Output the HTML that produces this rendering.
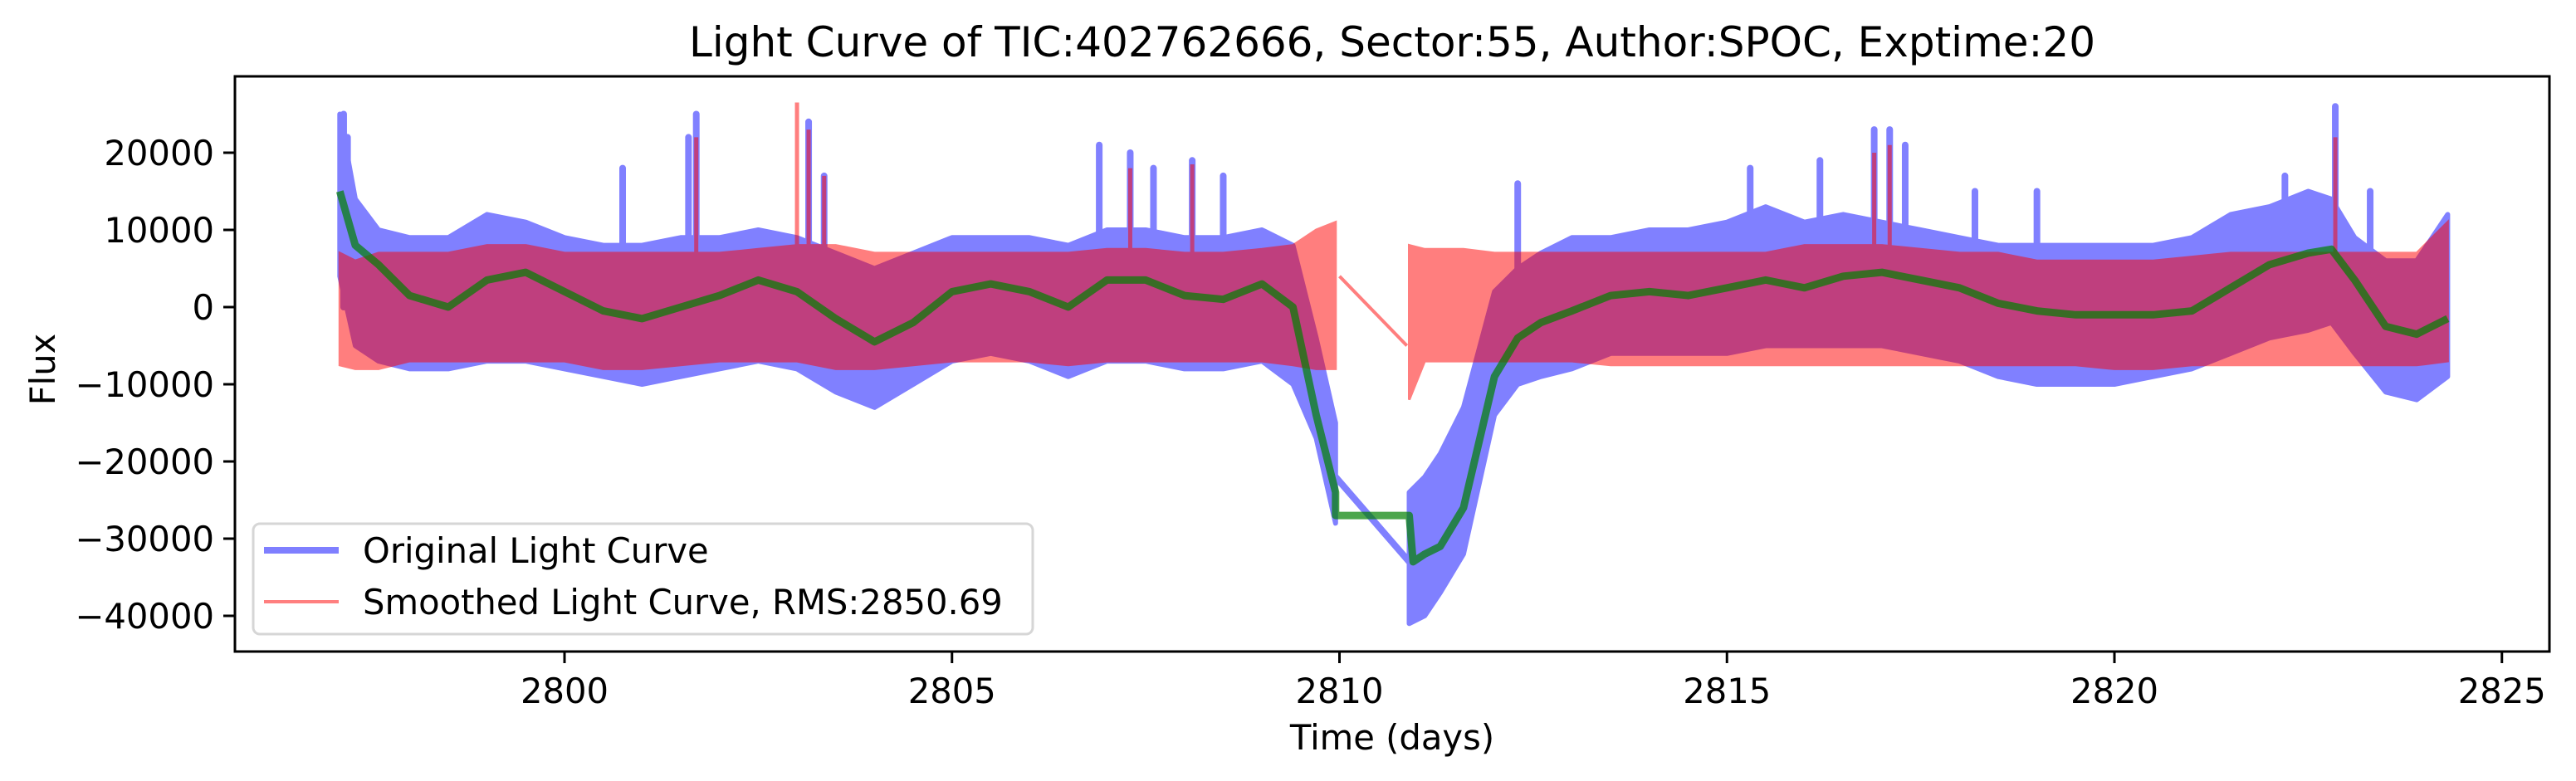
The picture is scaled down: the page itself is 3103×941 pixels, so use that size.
<!DOCTYPE html>
<html><head><meta charset="utf-8"><style>
html,body{margin:0;padding:0;background:#fff}
svg{display:block;font-family:"DejaVu Sans","Liberation Sans",sans-serif}
</style></head><body>
<svg id="chart" width="3103" height="941" viewBox="0 0 3103 941" xmlns="http://www.w3.org/2000/svg">
<rect x="0" y="0" width="3103" height="941" fill="#fff"/>
<text x="1677" y="68" font-size="50" text-anchor="middle">Light Curve of TIC:402762666, Sector:55, Author:SPOC, Exptime:20</text>
<g id="plot"></g>
<rect x="283" y="92" width="2788" height="693" fill="none" stroke="#000" stroke-width="3"/>
<g id="xticks"></g>
<g id="yticks"></g>
<text x="1677" y="903" font-size="41.7" text-anchor="middle">Time (days)</text>
<text transform="translate(66,445) rotate(-90)" font-size="41.7" text-anchor="middle">Flux</text>
<g>
<rect x="305" y="631" width="939" height="133" rx="8" fill="#fff" fill-opacity="0.8" stroke="#d6d6d6" stroke-width="3"/>
<line x1="318" y1="663" x2="408" y2="663" stroke="#0000ff" stroke-opacity="0.5" stroke-width="8"/>
<text x="437" y="678" font-size="41.7">Original Light Curve</text>
<line x1="318" y1="725" x2="408" y2="725" stroke="#ff0000" stroke-opacity="0.5" stroke-width="4"/>
<text x="437" y="740" font-size="41.7">Smoothed Light Curve, RMS:2850.69</text>
</g>
</svg>
<script>
// ---- data ----
const seg1T = [2797.1,2797.3,2797.6,2798,2798.5,2799,2799.5,2800,2800.5,2801,2801.5,2802,2802.5,2803,2803.5,2804,2804.5,2805,2805.5,2806,2806.5,2807,2807.5,2808,2808.5,2809,2809.4,2809.7,2809.95];
const seg1Trend = [15000,8000,5500,1500,0,3500,4500,2000,-500,-1500,0,1500,3500,2000,-1500,-4500,-2000,2000,3000,2000,0,3500,3500,1500,1000,3000,0,-14000,-24000];
const seg1BlueUp = [25000,14000,10000,9000,9000,12000,11000,9000,8000,8000,9000,9000,10000,9000,7000,5000,7000,9000,9000,9000,8000,10000,10000,9000,9000,10000,8000,-4000,-15000];
const seg1BlueLo = [4000,-5000,-7000,-8000,-8000,-7000,-7000,-8000,-9000,-10000,-9000,-8000,-7000,-8000,-11000,-13000,-10000,-7000,-6000,-7000,-9000,-7000,-7000,-8000,-8000,-7000,-10000,-17000,-28000];
const seg1RedUp = [7000,6000,7000,7000,7000,8000,8000,7000,7000,7000,7000,7000,7500,8000,8000,7000,7000,7000,7000,7000,7000,7500,7500,7000,7000,7500,8000,10000,11000];
const seg1RedLo = [-7500,-8000,-8000,-7000,-7000,-7000,-7000,-7000,-8000,-8000,-7500,-7000,-7000,-7000,-8000,-8000,-7500,-7000,-7000,-7000,-7500,-7000,-7000,-7000,-7000,-7000,-7500,-8000,-8000];

const seg2T = [2810.9,2811.1,2811.3,2811.6,2812,2812.3,2812.6,2813,2813.5,2814,2814.5,2815,2815.5,2816,2816.5,2817,2817.5,2818,2818.5,2819,2819.5,2820,2820.5,2821,2821.5,2822,2822.5,2822.8,2823.1,2823.5,2823.9,2824.3];
const seg2Trend = [-33000,-32000,-31000,-26000,-9000,-4000,-2000,-500,1500,2000,1500,2500,3500,2500,4000,4500,3500,2500,500,-500,-1000,-1000,-1000,-500,2500,5500,7000,7500,3500,-2500,-3500,-1500];
const seg2BlueUp = [-24000,-22000,-19000,-13000,2000,5000,7000,9000,9000,10000,10000,11000,13000,11000,12000,11000,10000,9000,8000,8000,8000,8000,8000,9000,12000,13000,15000,14000,9000,6000,6000,12000];
const seg2BlueLo = [-41000,-40000,-37000,-32000,-14000,-10000,-9000,-8000,-6000,-6000,-6000,-6000,-5000,-5000,-5000,-5000,-6000,-7000,-9000,-10000,-10000,-10000,-9000,-8000,-6000,-4000,-3000,-2000,-6000,-11000,-12000,-9000];
const seg2RedUp = [8000,7500,7500,7500,7000,7000,7000,7000,7000,7000,7000,7000,7000,8000,8000,8000,7500,7000,7000,6000,6000,6000,6000,6500,7000,7000,7000,7000,7000,7000,7000,11000];
const seg2RedLo = [-12000,-7000,-7000,-7000,-7000,-7000,-7000,-7000,-7500,-7500,-7500,-7500,-7500,-7500,-7500,-7500,-7500,-7500,-7500,-7500,-7500,-8000,-8000,-7500,-7500,-7500,-7500,-7500,-7500,-7500,-7500,-7000];

const gapBlueT = [2809.95,2810.9];
const gapBlueV = [-22000,-33000];
const gapRedT = [2810.0,2810.87];
const gapRedV = [4000,-5000];
const gapGreenT = [2809.95,2810.9,2810.95];
const gapGreenV = [-27000,-27000,-33000];

const blueSpikeT = [2797.15,2797.2,2800.75,2801.6,2801.7,2803.15,2803.35,2806.9,2807.3,2807.6,2808.1,2808.5,2812.3,2815.3,2816.2,2816.9,2817.1,2817.3,2818.2,2819.0,2822.2,2822.85,2823.3];
const blueSpikeV = [25000,22000,18000,22000,25000,24000,17000,21000,20000,18000,19000,17000,16000,18000,19000,23000,23000,21000,15000,15000,17000,26000,15000];
const redSpikeT = [2801.7,2803.0,2803.15,2803.35,2807.3,2808.1,2816.9,2817.1,2822.85];
const redSpikeV = [22000,26500,23000,17000,18000,18500,20000,21000,22000];

const xTickVals = [2800,2805,2810,2815,2820,2825];
const yTickVals = [20000,10000,0,-10000,-20000,-30000,-40000];
const yTickLabels = ["20000","10000","0","\u221210000","\u221220000","\u221230000","\u221240000"];

// ---- scales ----
const X0 = 680, PXDAY = 93.35, Y0 = 370, PXFLUX = 93/10000;
function sx(t){ return X0 + (t-2800)*PXDAY; }
function sy(v){ return Y0 - v*PXFLUX; }
const NS = 'http://www.w3.org/2000/svg';
const plot = document.getElementById('plot');
function mk(tag, attrs, parent){
  const e = document.createElementNS(NS, tag);
  for (const k in attrs) e.setAttribute(k, attrs[k]);
  (parent||plot).appendChild(e);
  return e;
}
function band(T, up, lo){
  let pts = [];
  for (let i=0;i<T.length;i++) pts.push(sx(T[i]).toFixed(1)+','+sy(up[i]).toFixed(1));
  for (let i=T.length-1;i>=0;i--) pts.push(sx(T[i]).toFixed(1)+','+sy(lo[i]).toFixed(1));
  return pts.join(' ');
}
function line(T, V){
  return T.map((t,i)=>sx(t).toFixed(1)+','+sy(V[i]).toFixed(1)).join(' ');
}

let e;
e = mk('polygon',{points:band(seg1T,seg1BlueUp,seg1BlueLo),fill:'#8080ff',stroke:'#8080ff','stroke-width':6,'stroke-linejoin':'round'});


e = mk('polygon',{points:band(seg2T,seg2BlueUp,seg2BlueLo),fill:'#8080ff',stroke:'#8080ff','stroke-width':6,'stroke-linejoin':'round'});


e = mk('polyline',{points:line(gapBlueT,gapBlueV),fill:'none',stroke:'#8080ff','stroke-width':8});


blueSpikeT.forEach((t,i)=>{
  const s = mk('line',{x1:sx(t),x2:sx(t),y1:sy(0),y2:sy(blueSpikeV[i]),stroke:'#8080ff','stroke-width':8,'stroke-linecap':'round'});
  
  
});

const redG = mk('g',{opacity:0.5});


e = mk('polygon',{points:band(seg1T,seg1RedUp,seg1RedLo),fill:'#ff0000',stroke:'#ff0000','stroke-width':3},redG);


e = mk('polygon',{points:band(seg2T,seg2RedUp,seg2RedLo),fill:'#ff0000',stroke:'#ff0000','stroke-width':3},redG);


e = mk('polyline',{points:line(gapRedT,gapRedV),fill:'none',stroke:'#ff0000','stroke-width':4},redG);


redSpikeT.forEach((t,i)=>{
  const s = mk('line',{x1:sx(t),x2:sx(t),y1:sy(0),y2:sy(redSpikeV[i]),stroke:'#ff0000','stroke-width':5},redG);
  
  
});

const gT = seg1T.concat(gapGreenT, seg2T.slice(1));
const gV = seg1Trend.concat(gapGreenV, seg2Trend.slice(1));
e = mk('polyline',{points:line(gT,gV),fill:'none',stroke:'#008000','stroke-opacity':0.7,'stroke-width':9,'stroke-linejoin':'round'});



const xg = document.getElementById('xticks');
xTickVals.forEach(v=>{
  const x = sx(v);
  const t = mk('line',{x1:x,x2:x,y1:785,y2:799,stroke:'#000','stroke-width':3},xg);
  
  
  const l = mk('text',{x:x,y:847,'font-size':41.7,'text-anchor':'middle'},xg);
  l.textContent = String(v);
  
  
});
const yg = document.getElementById('yticks');
yTickVals.forEach((v,i)=>{
  const y = sy(v);
  const t = mk('line',{x1:269,x2:283,y1:y,y2:y,stroke:'#000','stroke-width':3},yg);
  
  
  const l = mk('text',{x:258,y:y+15,'font-size':41.7,'text-anchor':'end'},yg);
  l.textContent = yTickLabels[i];
  
  
});
</script>
</body></html>
